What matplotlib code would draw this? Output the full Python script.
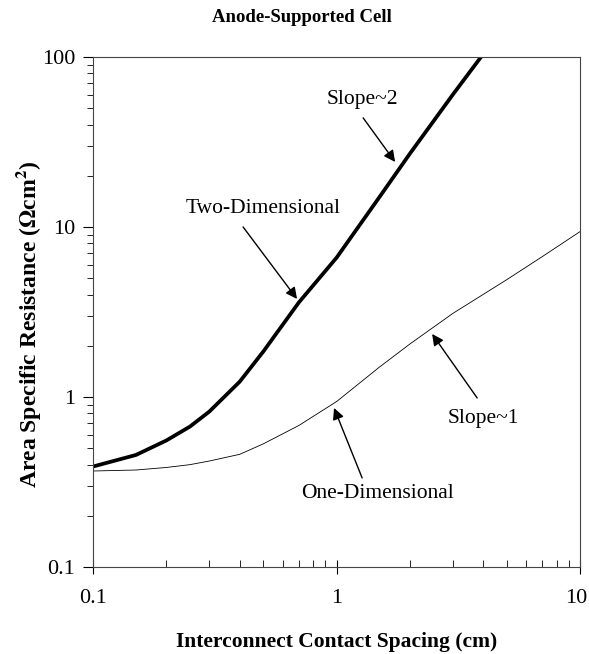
import numpy as np
import matplotlib
matplotlib.use("Agg")
import matplotlib.pyplot as plt
import matplotlib.transforms as mtransforms
from matplotlib.ticker import LogLocator, FuncFormatter, NullFormatter

plt.rcParams['font.family'] = ['Liberation Serif', 'DejaVu Serif']
plt.rcParams['mathtext.fontset'] = 'stix'

# two-dimensional model (thick curve)
spacing_2d = [0.1, 0.15, 0.2, 0.25, 0.3, 0.4, 0.5, 0.7, 1.0, 1.5, 2.0, 3.0, 4.0]
asr_2d = [0.39, 0.456, 0.555, 0.67, 0.82, 1.23, 1.85, 3.6, 6.6, 15.0, 27.0, 60.0, 104.0]

# one-dimensional model (thin curve)
spacing_1d = [0.1, 0.15, 0.2, 0.25, 0.3, 0.4, 0.5, 0.7, 1.0, 1.5, 2.0, 3.0, 5.0, 7.0, 10.0]
asr_1d = [0.367, 0.372, 0.385, 0.40, 0.42, 0.46, 0.53, 0.68, 0.94, 1.5, 2.05, 3.1, 4.9, 6.7, 9.4]

x_ticks = [0.1, 1, 10]
y_ticks = [0.1, 1, 10, 100]

fig = plt.figure(figsize=(5.89, 6.54), dpi=100)
ax = fig.add_axes([0.158, 0.133, 0.827, 0.780])

ax.plot(spacing_2d, asr_2d, color='black', lw=2.7, solid_joinstyle='round')
ax.plot(spacing_1d, asr_1d, color='black', lw=0.6)

ax.set_xscale('log')
ax.set_yscale('log')
ax.set_xticks(x_ticks)
ax.set_yticks(y_ticks)
ax.set_xlim(0.1, 10)
ax.set_ylim(0.1, 100)

fmt = FuncFormatter(lambda v, p: '%g' % v)
ax.xaxis.set_major_formatter(fmt)
ax.yaxis.set_major_formatter(fmt)
ax.xaxis.set_minor_locator(LogLocator(base=10, subs=np.arange(2, 10)))
ax.yaxis.set_minor_locator(LogLocator(base=10, subs=np.arange(2, 10)))
ax.xaxis.set_minor_formatter(NullFormatter())
ax.yaxis.set_minor_formatter(NullFormatter())

ax.tick_params(axis='x', which='major', direction='inout', length=10, width=0.8, labelsize=16, pad=11)
ax.tick_params(axis='x', which='minor', direction='in', length=5, width=0.6)
ax.tick_params(axis='y', which='major', direction='out', length=7, width=0.8, labelsize=16, pad=6)
ax.tick_params(axis='y', which='minor', direction='out', length=4, width=0.6)
for s in ax.spines.values():
    s.set_linewidth(0.8)
    s.set_color('#444444')

# nudge the last x label so it stays inside the figure
last = ax.xaxis.get_major_ticks()[-1].label1
last.set_transform(last.get_transform() + mtransforms.ScaledTranslation(-4 / 100, 0, fig.dpi_scale_trans))

ax.set_xlabel('Interconnect Contact Spacing (cm)', fontsize=15.5, fontweight='bold', labelpad=17)
ax.set_ylabel('Area Specific Resistance ($\\mathbf{\\Omega}$cm$^\\mathbf{2}$)', fontsize=17,
              fontweight='bold')
ax.yaxis.set_label_coords(-0.103, 0.475)
fig.text(0.513, 0.974, 'Anode-Supported Cell', ha='center', va='center', fontsize=13.5, fontweight='bold')

arrow = dict(arrowstyle='-|>', color='black', lw=1.0, mutation_scale=17, shrinkA=0, shrinkB=0)
note_size = 15.5

# labels and arrows
ax.text(1.273, 55.8, 'Slope~2', ha='center', va='center', fontsize=note_size)
ax.annotate('', xy=(1.739, 24.1), xytext=(1.285, 43.8), arrowprops=arrow)

ax.text(0.499, 12.76, 'Two-Dimensional', ha='center', va='center', fontsize=note_size)
ax.annotate('', xy=(0.688, 3.77), xytext=(0.413, 10.0), arrowprops=arrow)

ax.text(3.996, 0.752, 'Slope~1', ha='center', va='center', fontsize=note_size)
ax.annotate('', xy=(2.467, 2.348), xytext=(3.776, 0.987), arrowprops=arrow)

ax.text(1.467, 0.2724, 'One-Dimensional', ha='center', va='center', fontsize=note_size)
ax.annotate('', xy=(0.976, 0.862), xytext=(1.273, 0.334), arrowprops=arrow)

fig.savefig('out.png', dpi=100)
